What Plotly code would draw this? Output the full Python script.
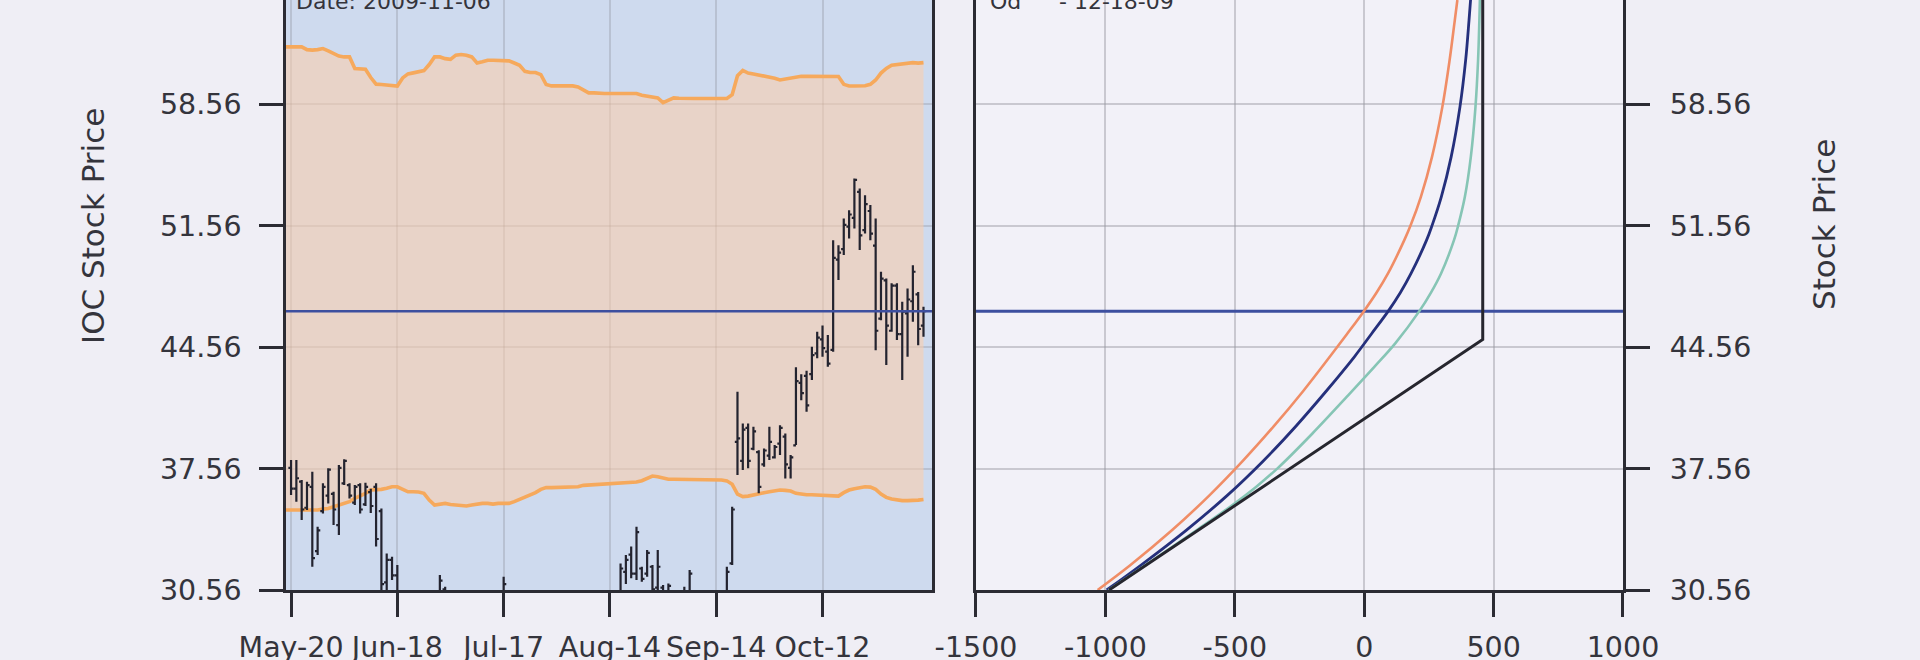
import plotly.graph_objects as go

# ---------------- data ----------------
DAY_IDX = list(range(120))
TICK_IDX = [0, 20, 40, 60, 80, 100]
TICK_LABELS = ["May-20", "Jun-18", "Jul-17", "Aug-14", "Sep-14", "Oct-12"]

OPEN = [37.6, 36.4, 36.8, 35.3, 36.5, 32.8, 35.1, 36.0, 36.1, 34.3,
        36.7, 36.6, 35.6, 36.6, 35.5, 36.2, 36.5, 35.1, 31.0, 32.3,
        31.4, 29.8, 29.2, 29.6, 29.1, 29.4, 29.0, 29.6, 30.2, 30.6,
        29.8, 29.4, 29.1, 29.5, 29.0, 29.3, 29.6, 29.2, 29.5, 29.8,
        30.3, 29.9, 29.4, 29.0, 28.7, 28.9, 29.3, 29.0, 28.6, 28.9,
        29.2, 29.6, 29.3, 29.0, 29.4, 29.7, 29.4, 29.1, 29.5, 29.8,
        29.6, 29.9, 30.4, 31.6, 32.6, 31.5, 31.8, 31.5, 31.9, 30.7,
        30.7, 30.2, 29.8, 29.5, 30.0, 30.2, 29.7, 29.4, 29.1, 29.5,
        29.8, 29.6, 30.4, 32.1, 39.1, 38.0, 39.9, 38.7, 38.5, 37.8,
        38.3, 38.2, 39.0, 39.4, 37.6, 38.9, 42.5, 42.9, 43.0, 44.2,
        45.0, 44.3, 44.4, 49.6, 50.2, 51.5, 52.0, 53.5, 51.3, 52.4,
        50.4, 46.2, 48.4, 45.5, 48.1, 45.3, 46.5, 47.2, 47.6, 45.8]
HIGH = [38.05, 38.05, 36.90, 36.80, 37.38, 34.21, 36.71, 37.57, 36.22, 37.76,
        38.09, 36.71, 36.61, 36.71, 36.74, 36.40, 36.71, 35.26, 32.67, 32.48,
        32.00, 30.30, 29.90, 30.10, 29.60, 29.70, 29.80, 30.30, 31.42, 30.75,
        30.20, 29.90, 29.60, 29.90, 29.70, 29.80, 30.00, 29.80, 30.10, 30.30,
        31.33, 30.20, 29.80, 29.40, 29.30, 29.50, 29.70, 29.40, 29.20, 29.50,
        29.80, 30.00, 29.70, 29.60, 29.90, 30.10, 29.80, 29.70, 30.00, 30.20,
        30.10, 30.40, 32.09, 32.57, 33.06, 34.21, 31.90, 32.86, 32.00, 32.86,
        30.85, 30.94, 30.20, 30.00, 30.75, 31.71, 30.10, 29.80, 29.60, 29.90,
        30.20, 30.30, 31.90, 35.36, 41.98, 40.16, 40.16, 39.97, 38.62, 38.72,
        39.97, 38.91, 40.06, 39.58, 38.34, 43.40, 43.00, 43.20, 44.58, 45.44,
        45.80, 45.25, 50.72, 50.43, 51.97, 52.45, 54.27, 53.70, 53.31, 52.74,
        51.97, 48.90, 48.51, 48.23, 48.23, 47.17, 47.94, 49.28, 47.74, 46.88]
LOW = [36.03, 35.65, 34.59, 35.17, 31.90, 32.57, 34.97, 35.55, 34.30, 33.73,
       36.61, 35.84, 35.46, 34.97, 35.40, 35.00, 33.06, 30.20, 30.00, 31.13,
       29.80, 28.90, 28.60, 28.80, 28.50, 28.70, 28.40, 28.90, 29.90, 29.80,
       28.90, 28.70, 28.50, 28.80, 28.40, 28.60, 28.90, 28.60, 28.90, 29.10,
       29.70, 29.10, 28.70, 28.30, 28.10, 28.30, 28.60, 28.20, 28.00, 28.30,
       28.60, 28.90, 28.60, 28.40, 28.80, 29.00, 28.70, 28.50, 28.90, 29.10,
       28.90, 29.20, 30.00, 30.90, 31.23, 31.13, 31.04, 31.33, 30.30, 30.40,
       29.90, 29.80, 29.20, 29.00, 29.70, 29.90, 29.00, 28.80, 28.60, 28.90,
       29.10, 29.00, 30.00, 32.00, 37.18, 37.47, 37.57, 38.62, 36.13, 37.66,
       38.05, 38.14, 38.34, 36.99, 36.99, 38.91, 41.50, 40.83, 42.66, 43.91,
       44.00, 43.42, 44.29, 48.42, 49.86, 50.82, 51.39, 50.15, 51.11, 50.72,
       44.38, 46.11, 43.52, 45.44, 44.96, 42.66, 44.00, 46.02, 44.67, 45.15]
CLOSE = [36.4, 37.0, 35.2, 36.6, 32.4, 34.0, 36.5, 37.5, 35.2, 37.6,
         38.0, 36.0, 36.5, 35.2, 36.5, 35.4, 33.5, 30.9, 32.3, 31.4,
         30.4, 29.2, 29.5, 29.1, 29.4, 29.0, 29.6, 30.0, 31.1, 30.2,
         29.4, 29.1, 29.5, 29.0, 29.3, 29.6, 29.2, 29.5, 29.8, 30.0,
         30.9, 29.4, 29.0, 28.7, 28.9, 29.3, 29.0, 28.6, 28.9, 29.2,
         29.6, 29.3, 29.0, 29.4, 29.7, 29.4, 29.1, 29.5, 29.8, 29.6,
         29.9, 30.1, 31.8, 32.3, 31.5, 33.9, 31.2, 32.7, 30.6, 31.9,
         30.3, 30.8, 29.5, 29.7, 30.4, 31.5, 29.4, 29.1, 29.5, 29.8,
         29.6, 30.1, 31.6, 35.2, 39.3, 39.8, 38.0, 39.7, 36.5, 38.6,
         39.1, 38.8, 39.9, 37.8, 38.2, 42.6, 41.9, 41.2, 44.1, 45.1,
         44.5, 43.6, 49.7, 50.0, 51.6, 52.2, 54.2, 51.0, 52.8, 51.1,
         45.5, 48.5, 45.8, 48.1, 45.3, 46.6, 47.3, 48.9, 45.6, 46.63]

BAND_IDX = list(range(-1, 120))
BAND_UPPER = [61.86, 61.86, 61.86, 61.86, 61.70, 61.67, 61.70, 61.76, 61.63, 61.48,
              61.33, 61.28, 61.28, 60.61, 60.57, 60.57, 60.09, 59.71, 59.69, 59.67,
              59.65, 59.60, 60.07, 60.30, 60.36, 60.42, 60.49, 60.84, 61.28, 61.28,
              61.18, 61.14, 61.38, 61.42, 61.38, 61.28, 60.93, 61.00, 61.09, 61.09,
              61.09, 61.09, 61.05, 60.93, 60.80, 60.45, 60.38, 60.38, 60.26, 59.69,
              59.61, 59.61, 59.61, 59.61, 59.61, 59.55, 59.36, 59.21, 59.21, 59.17,
              59.17, 59.17, 59.17, 59.15, 59.13, 59.17, 59.17, 59.07, 59.03, 58.98,
              58.92, 58.65, 58.79, 58.92, 58.90, 58.88, 58.88, 58.88, 58.88, 58.88,
              58.88, 58.88, 58.88, 58.88, 59.10, 60.20, 60.50, 60.35, 60.30, 60.25,
              60.20, 60.14, 60.05, 59.95, 60.00, 60.10, 60.14, 60.16, 60.16, 60.16,
              60.18, 60.20, 60.20, 60.20, 60.15, 59.70, 59.60, 59.60, 59.60, 59.62,
              59.70, 59.95, 60.35, 60.62, 60.80, 60.85, 60.90, 60.90, 60.95, 60.92,
              60.95]
BAND_LOWER = [35.17, 35.17, 35.17, 35.15, 35.13, 35.13, 35.17, 35.22, 35.26, 35.36,
              35.46, 35.55, 35.65, 35.84, 35.98, 36.13, 36.32, 36.32, 36.36, 36.42,
              36.51, 36.51, 36.36, 36.22, 36.22, 36.21, 36.13, 35.74, 35.46, 35.49,
              35.55, 35.49, 35.46, 35.40, 35.40, 35.46, 35.51, 35.55, 35.55, 35.51,
              35.55, 35.55, 35.55, 35.65, 35.78, 35.94, 36.03, 36.17, 36.36, 36.46,
              36.46, 36.48, 36.48, 36.48, 36.51, 36.51, 36.59, 36.61, 36.63, 36.65,
              36.65, 36.67, 36.69, 36.71, 36.71, 36.74, 36.78, 36.86, 36.99, 37.13,
              37.09, 36.99, 36.94, 36.94, 36.94, 36.90, 36.90, 36.90, 36.90, 36.90,
              36.90, 36.90, 36.90, 36.85, 36.65, 36.09, 35.94, 35.97, 36.05, 36.13,
              36.17, 36.22, 36.28, 36.32, 36.30, 36.26, 36.13, 36.07, 36.05, 36.05,
              36.03, 36.03, 36.00, 35.94, 35.97, 36.17, 36.32, 36.40, 36.47, 36.51,
              36.49, 36.36, 36.09, 35.90, 35.80, 35.74, 35.71, 35.71, 35.71, 35.74,
              35.78]

LAST_CLOSE = 46.63

# Option P&L curves: stock price levels and profit
CURVE_S = [30.56, 32.0, 34.0, 36.0, 38.0, 40.0, 42.0, 44.0, 45.3, 46.63,
           47.7, 48.8, 50.72, 51.56, 53.22, 55.52, 58.4, 61.09, 63.39, 64.56]
ORANGE_PNL = [-1030, -903, -743, -599, -469, -349, -237, -133, -67, -1,
              48, 92, 155, 179, 219, 262, 302, 330, 350, 360]
NAVY_PNL = [-995, -862, -688, -530, -390, -264, -148, -38, 27, 93,
            140, 181, 241, 262, 298, 336, 370, 392, 405, 411]
TEAL_S = [30.56, 32.0, 34.0, 35.36, 36.5, 37.57, 39.58, 41.89, 43.43, 44.77, 46.63,
          47.7, 48.8, 50.72, 51.56, 53.22, 55.52, 58.4, 61.09, 63.39, 64.56]
TEAL_PNL = [-988, -845, -648, -518, -418, -335, -200, -55, 40, 120, 213,
            258, 297, 347, 363, 389, 412, 430, 440, 445, 447]
EXPIRY_S = [30.56, 45.0, 64.56]
EXPIRY_PNL = [-986, 458, 458]

Y_TICKS = [30.56, 37.56, 44.56, 51.56, 58.56]
Y_RANGE = [30.56, 64.56]
X1_RANGE = [-0.95, 120.6]
X2_RANGE = [-1500, 1000]
X2_TICKS = [-1500, -1000, -500, 0, 500, 1000]
X2_LABELS = ["-1500", "-1000", "-500", "0", "500", "1000"]

# ---------------- styling ----------------
FONT = "DejaVu Sans"
INK = "#2b2b33"
TXT = "#34343c"
PAPER = "#efeef5"
PAD = "\u2002"   # keeps right-hand tick labels clear of the ticks

fig = go.Figure()

fig.add_trace(go.Scatter(x=BAND_IDX, y=BAND_LOWER, mode="lines",
                         line=dict(color="#f6a95c", width=3.6),
                         xaxis="x", yaxis="y", hoverinfo="skip"))
fig.add_trace(go.Scatter(x=BAND_IDX, y=BAND_UPPER, mode="lines",
                         line=dict(color="#f6a95c", width=3.6),
                         fill="tonexty", fillcolor="rgba(254,205,169,0.55)",
                         xaxis="x", yaxis="y", hoverinfo="skip"))
# price bars on an overlaid subplot so that they sit above the band fill
fig.add_trace(go.Ohlc(x=DAY_IDX, open=OPEN, high=HIGH, low=LOW, close=CLOSE,
                      increasing_line_color="#23232f", decreasing_line_color="#23232f",
                      line_width=2.2, tickwidth=0.5, xaxis="x3", yaxis="y3"))
fig.add_trace(go.Scatter(x=X1_RANGE, y=[LAST_CLOSE, LAST_CLOSE], mode="lines",
                         line=dict(color="#3d4f9f", width=2.5), xaxis="x3", yaxis="y3"))

fig.add_trace(go.Scatter(x=X2_RANGE, y=[LAST_CLOSE, LAST_CLOSE], mode="lines",
                         line=dict(color="#3d4f9f", width=3), xaxis="x2", yaxis="y2"))
fig.add_trace(go.Scatter(x=ORANGE_PNL, y=CURVE_S, mode="lines", line_shape="spline",
                         line=dict(color="#f08d66", width=2.6), xaxis="x2", yaxis="y2"))
fig.add_trace(go.Scatter(x=NAVY_PNL, y=CURVE_S, mode="lines", line_shape="spline",
                         line=dict(color="#25307c", width=2.8), xaxis="x2", yaxis="y2"))
fig.add_trace(go.Scatter(x=TEAL_PNL, y=TEAL_S, mode="lines", line_shape="spline",
                         line=dict(color="#86c5b5", width=2.6), xaxis="x2", yaxis="y2"))
fig.add_trace(go.Scatter(x=EXPIRY_PNL, y=EXPIRY_S, mode="lines",
                         line=dict(color="#26262e", width=3), xaxis="x2", yaxis="y2"))

axis_common = dict(showline=True, linecolor=INK, linewidth=2.5,
                   ticks="outside", ticklen=24, tickwidth=2.5, tickcolor=INK,
                   tickfont=dict(family=FONT, size=28.5, color=TXT),
                   zeroline=False, showgrid=True, automargin=False)

fig.update_layout(
    width=1920, height=660,
    margin=dict(l=286, r=297, t=0, b=70, autoexpand=False),
    paper_bgcolor=PAPER, plot_bgcolor="#cedaee",
    showlegend=False,
    font=dict(family=FONT, color=TXT),
    xaxis=dict(domain=[0, 0.48317], range=X1_RANGE, tickvals=TICK_IDX, ticktext=TICK_LABELS,
               gridcolor="rgba(110,105,115,0.22)", gridwidth=2, ticklabelstandoff=6,
               anchor="y", **axis_common),
    yaxis=dict(range=Y_RANGE, tickvals=Y_TICKS, ticktext=[f"{v:.2f}" for v in Y_TICKS],
               gridcolor="rgba(110,105,115,0.22)", gridwidth=2, mirror=True,
               ticklabelstandoff=12, anchor="x", **axis_common),
    xaxis3=dict(overlaying="x", range=X1_RANGE, visible=False, anchor="y3", automargin=False),
    yaxis3=dict(overlaying="y", range=Y_RANGE, visible=False, anchor="x3", automargin=False),
    xaxis2=dict(domain=[0.51608, 1], range=X2_RANGE, tickvals=X2_TICKS, ticktext=X2_LABELS,
                gridcolor="rgba(150,150,160,0.45)", gridwidth=2, ticklabelstandoff=6,
                anchor="y2", **axis_common),
    yaxis2=dict(range=Y_RANGE, tickvals=Y_TICKS, ticktext=[PAD + f"{v:.2f}" for v in Y_TICKS],
                side="right", mirror=True, anchor="x2",
                gridcolor="rgba(150,150,160,0.45)", gridwidth=2,
                **axis_common),
)
fig.update_xaxes(rangeslider_visible=False)

# right subplot background
fig.add_shape(type="rect", xref="x2 domain", yref="y2 domain", x0=0, x1=1, y0=0, y1=1,
              fillcolor="#f2f1f8", line_width=0, layer="below")

ann_font = dict(family=FONT, size=22, color=TXT)
fig.add_annotation(text="Date: 2009-11-06", xref="paper", yref="paper", x=0.006, y=1,
                   xanchor="left", yanchor="bottom", yshift=-16, showarrow=False, font=ann_font)
fig.add_annotation(text="Od", xref="paper", yref="paper", x=(988 - 286) / 1337, y=1,
                   xanchor="left", yanchor="bottom", yshift=-16, showarrow=False, font=ann_font)
fig.add_annotation(text="- 12-18-09", xref="paper", yref="paper", x=(1057 - 286) / 1337, y=1,
                   xanchor="left", yanchor="bottom", yshift=-16, showarrow=False, font=ann_font)
fig.add_annotation(text="IOC Stock Price", xref="paper", yref="paper",
                   x=(93 - 286) / 1337, y=(590 - 226) / 590, textangle=-90,
                   xanchor="center", yanchor="middle",
                   showarrow=False, font=dict(family=FONT, size=31, color=TXT))
fig.add_annotation(text="Stock Price", xref="paper", yref="paper",
                   x=(1824 - 286) / 1337, y=(590 - 225) / 590, textangle=-90,
                   xanchor="center", yanchor="middle",
                   showarrow=False, font=dict(family=FONT, size=31, color=TXT))

fig.write_html("out.html", config={"displayModeBar": False},
               post_script="document.body.style.margin='0';document.body.style.overflow='hidden';")
